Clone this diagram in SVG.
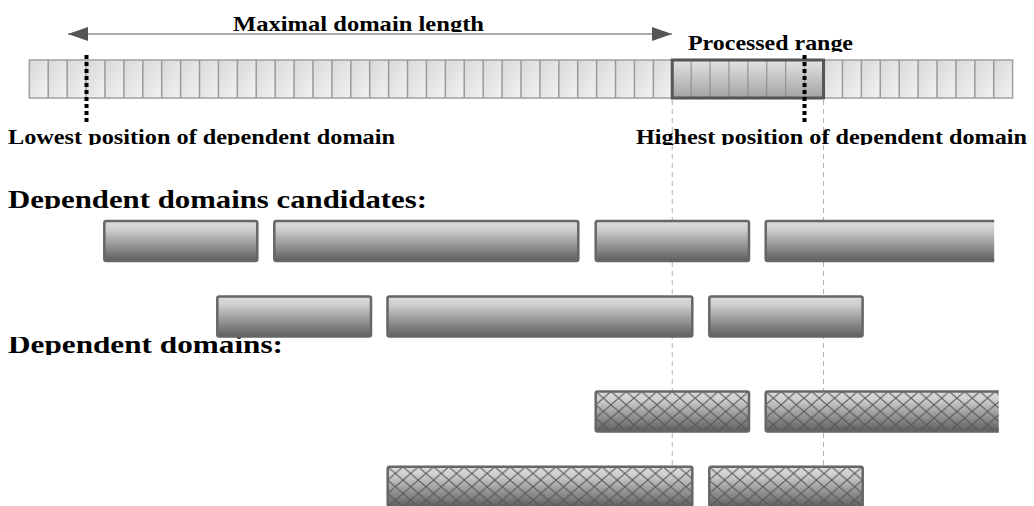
<svg xmlns="http://www.w3.org/2000/svg" width="1034" height="506" viewBox="0 0 1034 506">
<style>
.lbl{font-family:"Liberation Serif","Times New Roman",serif;font-weight:bold;fill:#000}
.bar{stroke:#666;stroke-width:2.5}
.cand{fill:url(#gBar)}
.dep{fill:url(#gBar)}
.hatch{fill:url(#pHatch)}
.guide{stroke:#b0b0b0;stroke-width:1;stroke-dasharray:5 4;fill:none}
.dots{stroke:#000;stroke-width:4;stroke-dasharray:4 3;fill:none}
</style>
<defs>
<linearGradient id="gBar" x1="0" y1="0" x2="0" y2="1">
<stop offset="0" stop-color="#dcdcdc"/>
<stop offset="0.2" stop-color="#cfcfcf"/>
<stop offset="1" stop-color="#5e5e5e"/>
</linearGradient>
<linearGradient id="gCell" x1="0" y1="0" x2="1" y2="1">
<stop offset="0" stop-color="#d8d8d8"/>
<stop offset="1" stop-color="#f2f2f2"/>
</linearGradient>
<linearGradient id="gProc" x1="0" y1="0" x2="0" y2="1">
<stop offset="0" stop-color="#e4e4e4"/>
<stop offset="1" stop-color="#a2a2a2"/>
</linearGradient>
<pattern id="pCell" patternUnits="userSpaceOnUse" x="29.3" y="60" width="18.91" height="38">
<rect x="0" y="0" width="18.91" height="38" fill="url(#gCell)"/>
</pattern>
<pattern id="pHatch" patternUnits="userSpaceOnUse" x="0" y="0" width="15.3" height="13.33">
<path d="M0,0 L15.3,13.33 M15.3,0 L0,13.33" stroke="#555" stroke-width="1" fill="none"/>
</pattern>
<marker id="ah" viewBox="0 0 20 14" refX="20" refY="7" markerWidth="20" markerHeight="14" markerUnits="userSpaceOnUse" orient="auto-start-reverse">
<path d="M0,0 L20,7 L0,14 Z" fill="#555"/>
</marker>
<clipPath id="cMax"><rect x="0" y="0" width="1034" height="32"/></clipPath>
<clipPath id="cProc"><rect x="0" y="0" width="1034" height="52"/></clipPath>
<clipPath id="cPos"><rect x="0" y="110" width="1034" height="35"/></clipPath>
<clipPath id="cCand"><rect x="0" y="170" width="1034" height="39"/></clipPath>
<clipPath id="cDep"><rect x="0" y="337" width="1034" height="18"/></clipPath>
<clipPath id="cR1"><rect x="-5" y="-5" width="233.5" height="50"/></clipPath>
<clipPath id="cR2"><rect x="-5" y="-5" width="238" height="50"/></clipPath>
</defs>

<g id="ruler">
<rect x="29.3" y="60" width="983.3" height="38" fill="url(#pCell)" stroke="#a0a0a0" stroke-width="1.5"/>
<path d="M48.21,60V98M67.12,60V98M86.03,60V98M104.94,60V98M123.85,60V98M142.76,60V98M161.67,60V98M180.58,60V98M199.49,60V98M218.4,60V98M237.31,60V98M256.22,60V98M275.13,60V98M294.04,60V98M312.95,60V98M331.86,60V98M350.77,60V98M369.68,60V98M388.59,60V98M407.5,60V98M426.41,60V98M445.32,60V98M464.23,60V98M483.14,60V98M502.05,60V98M520.96,60V98M539.87,60V98M558.78,60V98M577.69,60V98M596.6,60V98M615.51,60V98M634.42,60V98M653.33,60V98M842.43,60V98M861.34,60V98M880.25,60V98M899.16,60V98M918.07,60V98M936.98,60V98M955.89,60V98M974.8,60V98M993.71,60V98" stroke="#9a9a9a" stroke-width="1.5" fill="none"/>
</g>

<g id="processed-range">
<rect x="672.24" y="60" width="151.28" height="38" fill="url(#gProc)"/>
<path d="M691.15,60V98M710.06,60V98M728.97,60V98M747.88,60V98M766.79,60V98M785.7,60V98M804.61,60V98" stroke="#888" stroke-width="1" fill="none"/>
<rect x="672.24" y="60" width="151.28" height="38" fill="none" stroke="#555" stroke-width="3"/>
<text class="lbl" x="688" y="50" font-size="22" textLength="165" lengthAdjust="spacingAndGlyphs" clip-path="url(#cProc)">Processed range</text>
</g>

<g id="connectors">
<line x1="68" y1="34" x2="672" y2="34" stroke="#555" stroke-width="1" marker-start="url(#ah)" marker-end="url(#ah)"/>
<line class="guide" x1="672.24" y1="100" x2="672.24" y2="506"/>
<line class="guide" x1="823.52" y1="100" x2="823.52" y2="506"/>
<line class="dots" x1="86.5" y1="55" x2="86.5" y2="122"/>
<line class="dots" x1="804.5" y1="55" x2="804.5" y2="122"/>
</g>

<g id="labels">
<text class="lbl" x="233" y="30.5" font-size="21" textLength="251" lengthAdjust="spacingAndGlyphs" clip-path="url(#cMax)">Maximal domain length</text>
<text class="lbl" x="8" y="143.5" font-size="22" textLength="387" lengthAdjust="spacingAndGlyphs" clip-path="url(#cPos)">Lowest position of dependent domain</text>
<text class="lbl" x="636" y="143.5" font-size="22" textLength="391" lengthAdjust="spacingAndGlyphs" clip-path="url(#cPos)">Highest position of dependent domain</text>
<text class="lbl" x="8" y="207.5" font-size="26" textLength="419" lengthAdjust="spacingAndGlyphs" clip-path="url(#cCand)">Dependent domains candidates:</text>
<text class="lbl" x="8" y="353" font-size="26" textLength="275" lengthAdjust="spacingAndGlyphs" clip-path="url(#cDep)">Dependent domains:</text>
</g>

<g id="cand-1-1" transform="translate(104.3,221)"><rect class="bar cand" width="153" height="40" rx="2"/></g>
<g id="cand-1-2" transform="translate(274.3,221)"><rect class="bar cand" width="304" height="40" rx="2"/></g>
<g id="cand-1-3" transform="translate(595.7,221)"><rect class="bar cand" width="153.3" height="40" rx="2"/></g>
<g id="cand-1-4" transform="translate(765.7,221)" clip-path="url(#cR1)"><rect class="bar cand" width="260" height="40" rx="2"/></g>

<g id="cand-2-1" transform="translate(217.3,296.5)"><rect class="bar cand" width="153.7" height="40" rx="2"/></g>
<g id="cand-2-2" transform="translate(387.5,296.5)"><rect class="bar cand" width="304.8" height="40" rx="2"/></g>
<g id="cand-2-3" transform="translate(709.3,296.5)"><rect class="bar cand" width="153.3" height="40" rx="2"/></g>

<g id="dep-1-1" transform="translate(595.7,391.5)"><rect class="dep" width="153.3" height="40" rx="2"/><rect class="hatch" width="153.3" height="40"/><rect class="bar" fill="none" width="153.3" height="40" rx="2"/></g>
<g id="dep-1-2" transform="translate(765.7,391.5)" clip-path="url(#cR2)"><rect class="dep" width="260" height="40" rx="2"/><rect class="hatch" width="260" height="40"/><rect class="bar" fill="none" width="260" height="40" rx="2"/></g>

<g id="dep-2-1" transform="translate(387.7,466.8)"><rect class="dep" width="304.6" height="40" rx="2"/><rect class="hatch" width="304.6" height="40"/><rect class="bar" fill="none" width="304.6" height="40" rx="2"/></g>
<g id="dep-2-2" transform="translate(709.3,466.8)"><rect class="dep" width="153.4" height="40" rx="2"/><rect class="hatch" width="153.4" height="40"/><rect class="bar" fill="none" width="153.4" height="40" rx="2"/></g>
</svg>
